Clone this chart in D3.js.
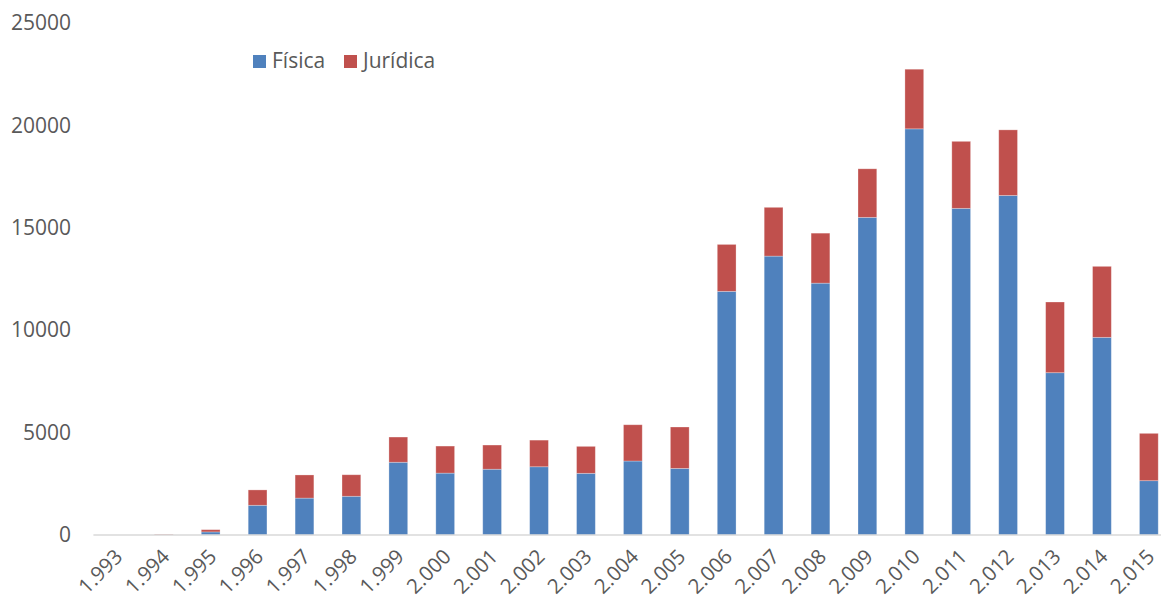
<!DOCTYPE html>
<html>
<head>
<meta charset="utf-8">
<script src="https://cdn.jsdelivr.net/npm/d3@7"></script>
<style>
  body { margin: 0; background: #fff; }
  text { font-family: "Open Sans", "Liberation Sans", sans-serif; fill: #595959; }
</style>
</head>
<body>
<div id="graph"></div>
<script>
// data
var years = ["1.993","1.994","1.995","1.996","1.997","1.998","1.999","2.000","2.001","2.002","2.003","2.004","2.005","2.006","2.007","2.008","2.009","2.010","2.011","2.012","2.013","2.014","2.015"];
var fisica = [0,10,150,1450,1800,1890,3550,3020,3210,3330,3010,3610,3250,11890,13610,12290,15500,19820,15940,16570,7920,9645,2650];
var juridica = [0,30,110,750,1130,1050,1230,1320,1180,1300,1315,1770,2020,2290,2380,2440,2370,2910,3270,3200,3450,3465,2310];
var yTicks = [0,5000,10000,15000,20000,25000];
var seriesNames = ["Física","Jurídica"];
var colors = ["#4F81BD","#C0504D"];

var svg = d3.select('#graph').append("svg")
  .attr('width', 1161)
  .attr('height', 602);

var rows = years.map(function(y, i) {
  return {year: y, "Física": fisica[i], "Jurídica": juridica[i]};
});
var stack = d3.stack().keys(seriesNames)(rows);

// scales
var x = d3.scaleBand().domain(years).range([93.4, 1172.3])
  .paddingInner(0.6).paddingOuter(0.3);
var y = d3.scaleLinear().domain([0, 25000]).range([535, 22.7]);

// y labels (no axis line)
svg.append("g")
  .selectAll("text")
  .data(yTicks)
  .enter().append("text")
  .attr("x", 71)
  .attr("y", function(d) { return y(d); })
  .attr("dy", "0.35em")
  .attr("text-anchor", "end")
  .style("font-size", "21px")
  .text(function(d) { return d; });

// bars
svg.append("g").selectAll("g")
  .data(stack)
  .enter().append("g")
  .attr("fill", function(d, i) { return colors[i]; })
  .selectAll("rect")
  .data(function(d) { return d; })
  .enter().append("rect")
  .attr("x", function(d) { return x(d.data.year); })
  .attr("width", x.bandwidth())
  .attr("y", function(d) { return y(d[1]); })
  .attr("height", function(d) { return y(d[0]) - y(d[1]); })
  .attr("stroke", "#fff")
  .attr("stroke-opacity", 0.35)
  .attr("stroke-width", 0.8);

// baseline
svg.append("line")
  .attr("x1", x.range()[0]).attr("x2", 1161)
  .attr("y1", y(0)).attr("y2", y(0))
  .attr("stroke", "#d9d9d9")
  .attr("stroke-width", 1.5);

// x labels
svg.append("g")
  .selectAll("text")
  .data(years)
  .enter().append("text")
  .attr("transform", function(d) {
    return "translate(" + (x(d) + x.bandwidth() / 2 + 7) + ",558) rotate(-45)";
  })
  .attr("text-anchor", "end")
  .style("font-size", "20.5px")
  .text(function(d) { return d; });

// legend
var legend = svg.append("g").selectAll("g")
  .data(seriesNames)
  .enter().append("g")
  .attr("transform", function(d, i) { return "translate(" + [253, 344][i] + ",55)"; });
legend.append("rect")
  .attr("width", 13).attr("height", 13)
  .attr("fill", function(d, i) { return colors[i]; });
legend.append("text")
  .attr("x", 19).attr("y", 13)
  .style("font-size", "21px")
  .text(function(d) { return d; });
</script>
</body>
</html>
